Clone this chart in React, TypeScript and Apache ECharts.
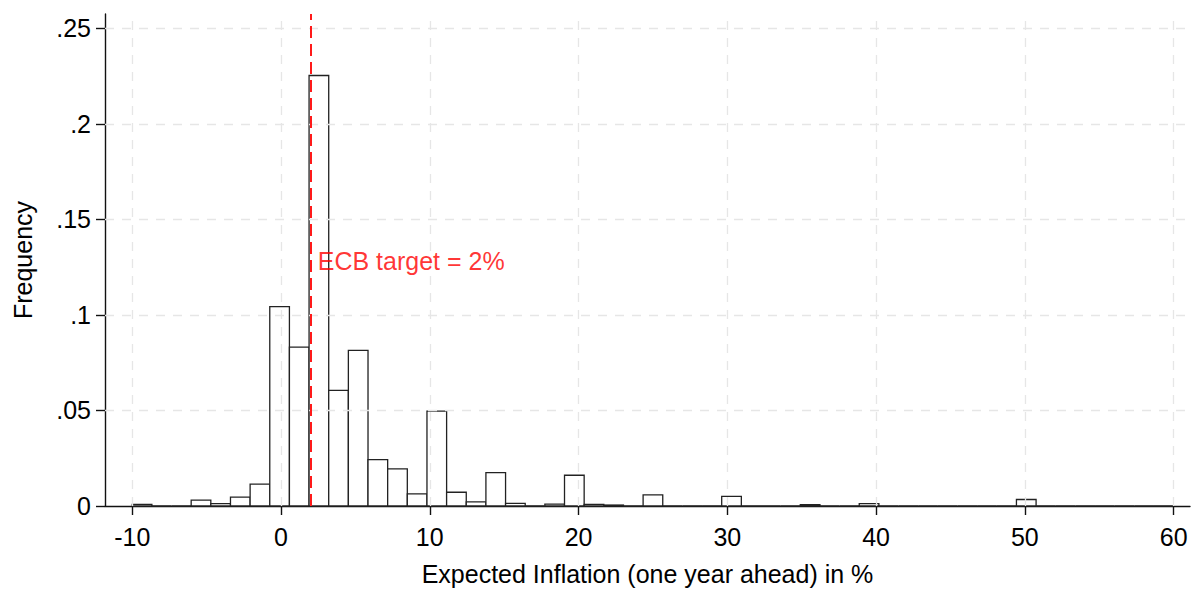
import React, { useEffect, useRef } from "react";
import * as echarts from "echarts";

// Histogram: 53 equal bins from -10 to 60
const binStart = -10;
const binEnd = 60;
const binCount = 53;
const frequencies = [
  0.0009, 0, 0, 0.0031, 0.0012, 0.0046, 0.0115, 0.1043, 0.0831, 0.2253,
  0.0605, 0.0814, 0.0243, 0.0194, 0.0063, 0.0497, 0.0072, 0.0022, 0.0175, 0.0014,
  0, 0.001, 0.0161, 0.0009, 0.0005, 0, 0.0058, 0, 0, 0,
  0.005, 0, 0, 0, 0.0007, 0, 0, 0.0012, 0, 0,
  0, 0, 0, 0, 0, 0.0034, 0, 0, 0, 0,
  0, 0, 0,
];
const xTicks = [-10, 0, 10, 20, 30, 40, 50, 60];
const yTicks = [0, 0.05, 0.1, 0.15, 0.2, 0.25];
const targetValue = 2;
const targetLabel = "ECB target = 2%";
const targetLabelY = 0.128;
const xTitle = "Expected Inflation (one year ahead) in %";
const yTitle = "Frequency";

const FONT = "Arial, 'Liberation Sans', sans-serif";

export default function App() {
  const ref = useRef<HTMLDivElement>(null);
  useEffect(() => {
    if (!ref.current) return;
    const chart = echarts.init(ref.current, null, { renderer: "svg" });
    const w = (binEnd - binStart) / binCount;
    const bins = frequencies.map((f, i) => [binStart + i * w, binStart + (i + 1) * w, f]);
    const gridStyle = { color: "#e6e6e6", width: 1.3, type: [9, 8] as any };
    chart.setOption({
      animation: false,
      backgroundColor: "#ffffff",
      grid: { left: 105, right: 2, top: 14, bottom: 76, containLabel: false },
      xAxis: {
        type: "value",
        min: -11.83,
        max: 61.1,
        name: xTitle,
        nameLocation: "middle",
        nameGap: 55,
        nameTextStyle: { fontFamily: FONT, fontSize: 25, color: "#000" },
        axisLine: { show: true, onZero: false, lineStyle: { color: "#111", width: 1.4 } },
        axisTick: { show: true, length: 9, customValues: xTicks, lineStyle: { color: "#111", width: 1.4 } },
        axisLabel: {
          customValues: xTicks,
          fontFamily: FONT,
          fontSize: 25,
          color: "#000",
          margin: 18,
          formatter: (v: number) => String(v),
        },
        splitLine: { show: false },
      },
      yAxis: {
        type: "value",
        min: 0,
        max: 0.2575,
        name: yTitle,
        nameLocation: "middle",
        nameGap: 70,
        nameRotate: 90,
        nameTextStyle: { fontFamily: FONT, fontSize: 25, color: "#000" },
        axisLine: { show: true, onZero: false, lineStyle: { color: "#111", width: 1.4 } },
        axisTick: { show: true, length: 9, customValues: yTicks, lineStyle: { color: "#111", width: 1.4 } },
        axisLabel: {
          customValues: yTicks,
          fontFamily: FONT,
          fontSize: 25,
          color: "#000",
          margin: 14,
          formatter: (v: number) => (v === 0 ? "0" : String(+v.toFixed(2)).replace(/^0/, "")),
        },
        splitLine: { show: false },
      },
      series: [
        {
          type: "line",
          data: [],
          z: 1,
          silent: true,
          markLine: {
            silent: true,
            symbol: "none",
            label: { show: false },
            lineStyle: gridStyle,
            data: [
              ...xTicks.map((v) => ({ xAxis: v })),
              ...yTicks.filter((v) => v > 0).map((v) => ({ yAxis: v })),
            ],
          },
        },
        {
          type: "custom",
          z: 3,
          silent: true,
          data: bins,
          encode: { x: [0, 1], y: 2 },
          renderItem: (params: any, api: any) => {
            const p0 = api.coord([api.value(0), api.value(2)]);
            const p1 = api.coord([api.value(1), 0]);
            return {
              type: "rect",
              shape: { x: p0[0], y: p0[1], width: p1[0] - p0[0], height: p1[1] - p0[1] },
              style: { fill: "#ffffff", stroke: "#222", lineWidth: 1.3 },
            };
          },
        },
        {
          type: "scatter",
          z: 5,
          silent: true,
          symbolSize: 0,
          data: [[targetValue, targetLabelY]],
          label: {
            show: true,
            position: "right",
            distance: 7,
            formatter: targetLabel,
            fontFamily: FONT,
            fontSize: 25,
            color: "#ff0000",
          },
          markLine: {
            silent: true,
            symbol: "none",
            label: { show: false },
            lineStyle: { color: "#ff1a1a", width: 2, type: [12, 6] as any },
            data: [{ xAxis: targetValue }],
          },
        },
      ],
    });
    return () => chart.dispose();
  }, []);
  return (
    <div
      ref={ref}
      style={{ position: "absolute", left: 0, top: 0, width: 1192, height: 591, background: "#fff" }}
    />
  );
}
